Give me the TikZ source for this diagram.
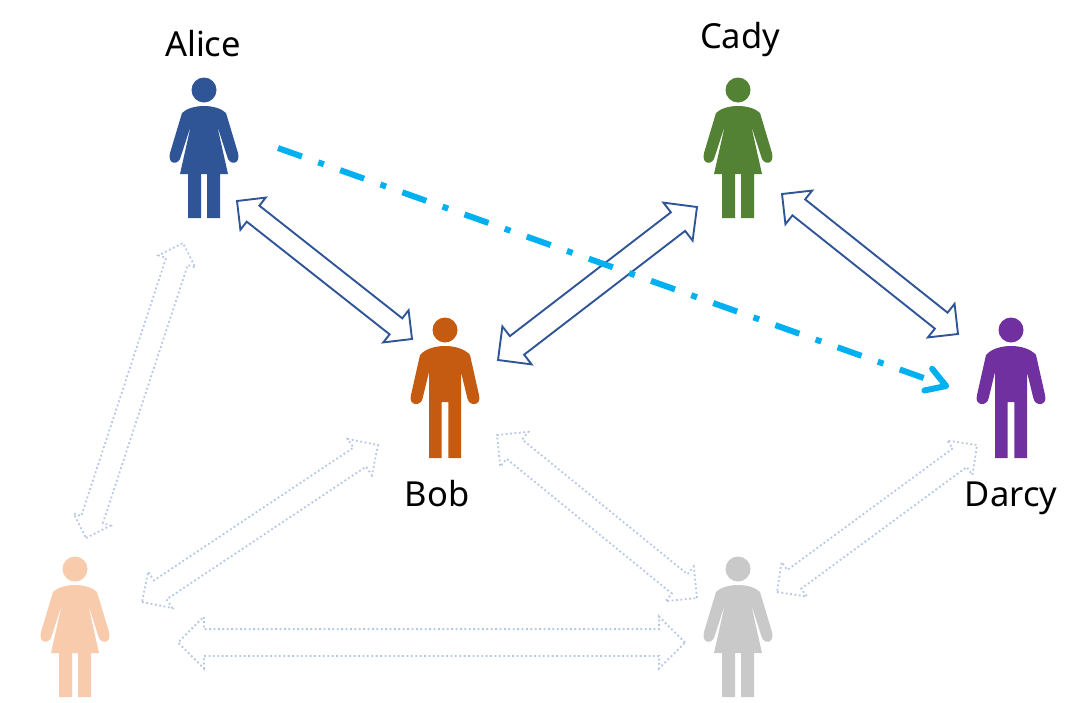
\documentclass[tikz,border=0pt]{standalone}
\usepackage{fontspec}
\setmainfont{Noto Sans}
\usetikzlibrary{arrows.meta,calc,shapes.arrows}

\definecolor{figblue}{HTML}{2F5597}
\definecolor{figgreen}{HTML}{548235}
\definecolor{figorange}{HTML}{C55A11}
\definecolor{figpurple}{HTML}{7030A0}
\definecolor{figpeach}{HTML}{F8CBAD}
\definecolor{figgray}{HTML}{C9C9C9}
\definecolor{linkfaint}{HTML}{B4C7E7}
\definecolor{linkcyan}{HTML}{00B0F0}

\tikzset{
  label text/.style={font=\fontsize{34.5}{34.5}\selectfont, anchor=base, inner sep=0pt, text=black},
  strong link/.style={draw=figblue, line width=1.9pt},
  faint link/.style={draw=linkfaint, line width=1.8pt, dash pattern=on 1.8pt off 2.6pt},
  woman/.pic={
    \node[circle, fill=#1, minimum size=25pt, inner sep=0pt] (-head) at (0,0) {};
    \fill[#1] (0,16) .. controls (10,16) and (18,19) .. (22,23) -- (34,63)
      .. controls (37,75) and (25,76) .. (23,66) -- (13,35) -- (24,84) -- (16,84) -- (16,128)
      -- (3,128) -- (3,84) -- (-3,84) -- (-3,128) -- (-16,128) -- (-16,84) -- (-24,84) -- (-13,35)
      -- (-23,66) .. controls (-25,76) and (-37,75) .. (-34,63) -- (-22,23)
      .. controls (-18,19) and (-10,16) .. (0,16) -- cycle;
  },
  man/.pic={
    \node[circle, fill=#1, minimum size=25pt, inner sep=0pt] (-head) at (0,0) {};
    \fill[#1] (0,16) .. controls (10,16) and (20,19) .. (25,25) -- (34,65)
      .. controls (37,76) and (24,77) .. (22.3,68) -- (16,42) -- (16,128) -- (3.3,128) -- (3.3,72)
      -- (-3.3,72) -- (-3.3,128) -- (-16,128) -- (-16,42) -- (-22.3,68)
      .. controls (-24,77) and (-37,76) .. (-34,65) -- (-25,25)
      .. controls (-20,19) and (-10,16) .. (0,16) -- cycle;
  },
}

% style, from, to, head width, shaft width
\newcommand{\linkarrow}[5]{
  \path let \p1=($(#3)-(#2)$), \n1={atan2(\y1,\x1)}, \n2={veclen(\x1,\y1)} in
    node[double arrow, #1, rotate=\n1, minimum height=\n2, text height=0pt, text depth=0pt,
      inner xsep=0pt, inner ysep={#5pt/2}, double arrow head extend={(#4pt-#5pt)/2}, outer sep=0pt]
    (#2-#3) at ($(#2)!.5!(#3)$) {};
}

\begin{document}
\begin{tikzpicture}[x=1pt, y=-1pt]
\useasboundingbox (0,0) rectangle (1086,702);

% people
\pic (alice) at (204,90) {woman=figblue};
\pic (cady) at (738,90) {woman=figgreen};
\pic (bob) at (445,330) {man=figorange};
\pic (darcy) at (1011,330) {man=figpurple};
\pic (peach) at (75,569) {woman=figpeach};
\pic (gray) at (738,569) {woman=figgray};

\node[label text] (alicelabel) at (203,56) {Alice};
\node[label text] (cadylabel) at (740,48) {Cady};
\node[label text] (boblabel) at (437,506) {Bob};
\node[label text] (darcylabel) at (1011,506) {Darcy};

% arrow ends
\coordinate (ab1) at (237,201);
\coordinate (ab2) at (412,339);
\coordinate (bc1) at (498,360);
\coordinate (bc2) at (697,207);
\coordinate (cd1) at (782,194);
\coordinate (cd2) at (958,334);
\coordinate (ap1) at (183,243);
\coordinate (ap2) at (86,538);
\coordinate (bp1) at (378,445);
\coordinate (bp2) at (142,602);
\coordinate (bg1) at (497,435);
\coordinate (bg2) at (697,598);
\coordinate (dg1) at (977,445);
\coordinate (dg2) at (777,592);
\coordinate (pg1) at (178,642.5);
\coordinate (pg2) at (685,642.5);
\coordinate (ad1) at (278,148);
\coordinate (ad2) at (949,387);

\linkarrow{faint link}{ap1}{ap2}{37}{21}
\linkarrow{faint link}{bp1}{bp2}{42}{21}
\linkarrow{faint link}{bg1}{bg2}{43}{23}
\linkarrow{faint link}{dg1}{dg2}{41}{21.5}
\linkarrow{faint link}{pg1}{pg2}{50}{25}

\linkarrow{strong link}{ab1}{ab2}{39}{18.5}
\linkarrow{strong link}{bc1}{bc2}{46}{21.5}
\linkarrow{strong link}{cd1}{cd2}{41}{18.5}

% trust line
\draw[linkcyan, line width=6pt, dash pattern=on 25.4pt off 17.3pt on 6pt off 17.3pt,
  -{Straight Barb[length=19pt, width=23pt, round, line width=6pt]}] (ad1) -- (ad2);

\end{tikzpicture}
\end{document}
